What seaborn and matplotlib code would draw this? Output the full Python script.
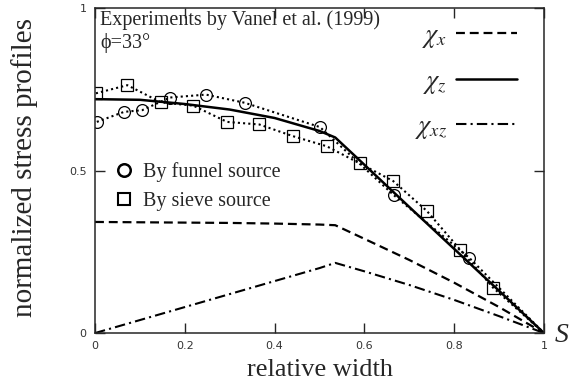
import numpy as np
import pandas as pd
import matplotlib
matplotlib.use("Agg")
import matplotlib.pyplot as plt
from matplotlib.lines import Line2D
import seaborn as sns

# model profiles (relative width vs normalized stress)
model_x = [0.0, 0.1, 0.2, 0.3, 0.4, 0.5, 0.535, 0.6, 0.7, 0.8, 0.9, 1.0]
chi_x = [0.342, 0.341, 0.340, 0.339, 0.337, 0.334, 0.332, 0.290, 0.225, 0.155, 0.080, 0.0]
chi_z = [0.720, 0.718, 0.705, 0.688, 0.662, 0.622, 0.602, 0.518, 0.388, 0.259, 0.130, 0.0]
chi_xz = [0.0, 0.040, 0.080, 0.120, 0.160, 0.200, 0.216, 0.190, 0.148, 0.102, 0.052, 0.0]

# experiments (Vanel et al. 1999); last point is the wall
funnel_x = [0.004, 0.065, 0.105, 0.167, 0.247, 0.333, 0.501, 0.665, 0.834, 1.0]
funnel_y = [0.650, 0.681, 0.686, 0.725, 0.734, 0.709, 0.634, 0.425, 0.231, 0.0]
sieve_x = [0.002, 0.072, 0.147, 0.219, 0.294, 0.366, 0.441, 0.516, 0.590, 0.664, 0.739, 0.813, 0.887, 1.0]
sieve_y = [0.738, 0.763, 0.710, 0.700, 0.650, 0.642, 0.606, 0.575, 0.522, 0.468, 0.376, 0.257, 0.139, 0.0]

xticks = [0, 0.2, 0.4, 0.6, 0.8, 1]
xticklabels = ["0", "0.2", "0.4", "0.6", "0.8", "1"]
yticks = [0, 0.5, 1]
yticklabels = ["0", "0.5", "1"]

sns.set_style("ticks")
plt.rcParams["font.family"] = ["Liberation Serif", "DejaVu Serif"]
plt.rcParams["mathtext.fontset"] = "stix"

fig = plt.figure(figsize=(5.84, 3.9), dpi=100)
ax = fig.add_axes([0.1627, 0.146, 0.7688, 0.833])

sns.lineplot(x=model_x, y=chi_x, ax=ax, color="black", lw=1.6, linestyle=(0, (4, 2.2)))
sns.lineplot(x=model_x, y=chi_z, ax=ax, color="black", lw=1.8, linestyle="-")
sns.lineplot(x=model_x, y=chi_xz, ax=ax, color="black", lw=1.5, linestyle=(0, (5, 2, 1, 2)))

sns.lineplot(x=funnel_x, y=funnel_y, ax=ax, color="black", lw=1.5, linestyle=(0, (1, 1.5)),
             marker="o", markersize=8.5, markerfacecolor="none", markeredgecolor="black",
             markeredgewidth=0.9, markevery=list(range(len(funnel_x) - 1)))
sns.lineplot(x=sieve_x, y=sieve_y, ax=ax, color="black", lw=1.5, linestyle=(0, (1, 1.5)),
             marker="s", markersize=8.5, markerfacecolor="none", markeredgecolor="black",
             markeredgewidth=0.9, markevery=list(range(len(sieve_x) - 1)))

ax.set_xlim(0, 1)
ax.set_ylim(0, 1)
ax.set_xticks(xticks)
ax.set_xticklabels(xticklabels)
ax.set_yticks(yticks)
ax.set_yticklabels(yticklabels)
ax.tick_params(direction="in", length=7, width=1, top=True, right=True,
               labelsize=8, labelcolor="#333333", pad=6)
for lab in ax.get_xticklabels() + ax.get_yticklabels():
    lab.set_family("DejaVu Sans")
for sp in ax.spines.values():
    sp.set_linewidth(1.1)

ax.set_xlabel("relative width", fontsize=19)
ax.xaxis.set_label_coords(0.5, -0.08)
ax.set_ylabel("normalized stress profiles", fontsize=21)
ax.yaxis.set_label_coords(-0.156, 0.509)
ax.yaxis.label.set_va("center")

ax.text(0.011, 0.962, "Experiments by Vanel et al. (1999)", transform=ax.transAxes,
        fontsize=14.5, va="center", ha="left")
ax.text(0.011, 0.893, "\u03d5=33\u00b0", transform=ax.transAxes,
        fontsize=14.5, va="center", ha="left")
fig.text(0.950, 0.141, "S", fontsize=20, style="italic", va="center", ha="left")

h_model = [
    Line2D([], [], color="black", lw=1.6, linestyle=(0, (4, 2.2))),
    Line2D([], [], color="black", lw=1.8, linestyle="-"),
    Line2D([], [], color="black", lw=1.5, linestyle=(0, (5, 2, 1, 2))),
]
leg1 = ax.legend(h_model, [r"$\chi_x$", r"$\chi_z$", r"$\chi_{xz}$"], loc="upper right",
                 bbox_to_anchor=(0.975, 1.0), frameon=False, markerfirst=False,
                 handlelength=2.3, labelspacing=0.72, fontsize=19, handletextpad=0.35,
                 borderaxespad=0.2)
ax.add_artist(leg1)

h_exp = [
    Line2D([], [], color="black", linestyle="none", marker="o", markersize=9,
           markerfacecolor="none", markeredgewidth=1.8),
    Line2D([], [], color="black", linestyle="none", marker="s", markersize=9,
           markerfacecolor="none", markeredgewidth=1.5),
]
ax.legend(h_exp, ["By funnel source", "By sieve source"], loc="center left",
          bbox_to_anchor=(-0.01, 0.45), frameon=False, handlelength=1.5,
          labelspacing=0.5, fontsize=14.5, handletextpad=0.2)

fig.savefig("out.png", dpi=100)
